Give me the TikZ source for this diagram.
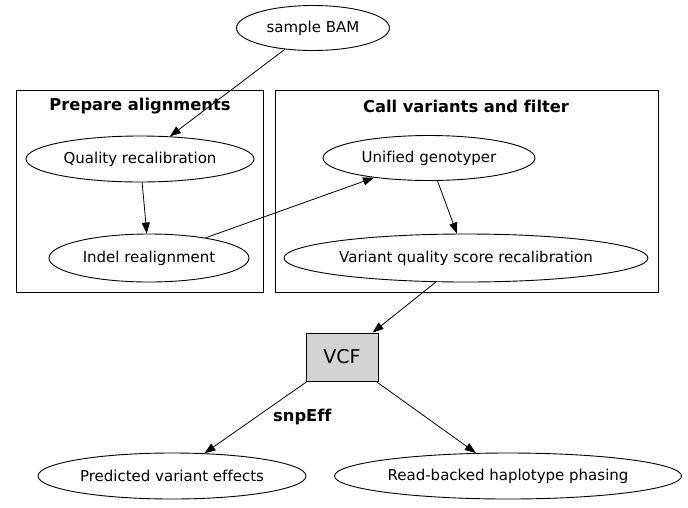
\documentclass[tikz,border=0pt]{standalone}
\usepackage{fontspec}
\setmainfont[Ligatures=CommonOff]{DejaVu Sans}
\usetikzlibrary{shapes.geometric,arrows.meta}
\definecolor{vcfgray}{RGB}{211,211,211}
\tikzset{
  every node/.style={inner sep=0pt, font=\fontsize{15}{17}\selectfont},
  step oval/.style={draw, ellipse, line width=0.9pt},
  cluster/.style={draw, rectangle, line width=0.9pt},
  title/.style={font=\fontsize{16.3}{18}\selectfont\bfseries},
  flow/.style={line width=0.8pt, -{Triangle[length=11pt,width=8pt]}}
}

\begin{document}
\begin{tikzpicture}[x=1pt, y=-1pt]
        \useasboundingbox (0,0) rectangle (688,507);

        \node[cluster, minimum width=247pt, minimum height=202pt] (prep) at (139.5,191) {};
        \node[cluster, minimum width=383pt, minimum height=202pt] (call) at (466.5,191) {};
        \node[title] (preptitle) at (140,106) {Prepare alignments};
        \node[title] (calltitle) at (466,106) {Call variants and filter};

        \node[step oval, minimum width=153pt, minimum height=45pt] (bam) at (313,28) {sample BAM};
        \node[step oval, minimum width=228pt, minimum height=46pt] (recal) at (140,159) {Quality recalibration};
        \node[step oval, minimum width=200pt, minimum height=48pt] (indel) at (149,258) {Indel realignment};
        \node[step oval, minimum width=212pt, minimum height=45pt] (ug) at (429,158) {Unified genotyper};
        \node[step oval, minimum width=364pt, minimum height=48pt] (vqsr) at (466,258) {Variant quality score recalibration};
        \node[draw, rectangle, line width=0.9pt, fill=vcfgray, minimum width=72pt, minimum height=48pt,
              font=\fontsize{19}{21}\selectfont] (vcf) at (342,357) {VCF};
        \node[step oval, minimum width=268pt, minimum height=46pt] (effects) at (172,476) {Predicted variant effects};
        \node[step oval, minimum width=347pt, minimum height=46pt] (phasing) at (508,476) {Read-backed haplotype phasing};

        \path[flow] (bam) edge (recal)
              (recal) edge (indel)
              (indel) edge (ug)
              (ug) edge (vqsr)
              (vqsr) edge (vcf)
              (vcf) edge node[title, midway, anchor=west, xshift=17pt] {snpEff} (effects)
              (vcf) edge (phasing);
    \end{tikzpicture}
\end{document}
